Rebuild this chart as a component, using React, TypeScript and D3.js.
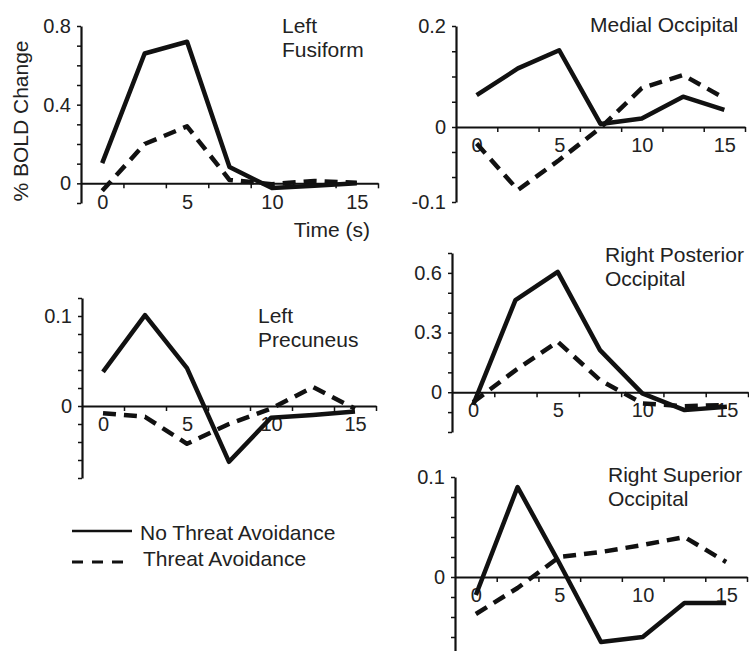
import { useEffect, useRef } from "react";
import * as d3 from "d3";

const WIDTH = 749;
const HEIGHT = 651;
const FONT = '"Liberation Sans", Arial, Helvetica, sans-serif';
const INK = "#111";
const TEXT = "#222";

// time points (s), one per TR
const times = [0, 2.5, 5, 7.5, 10, 12.5, 15];
const xTickLabels = [0, 5, 10, 15];
// excel style category axis: the tick marks sit between the time points
const xCategoryEdges = [1.25, 3.75, 6.25, 8.75, 11.25, 13.75, 16.25];
const xDomain = [-1.25, 16.25];

// % BOLD change
const fusiformNoThreat = [0.103, 0.66, 0.72, 0.083, -0.024, -0.012, 0.0];
const fusiformThreat = [-0.038, 0.2, 0.29, 0.017, -0.004, 0.012, 0.003];
const medialNoThreat = [0.063, 0.116, 0.152, 0.006, 0.017, 0.06, 0.034];
const medialThreat = [-0.022, -0.084, -0.044, -0.001, 0.077, 0.103, 0.057];
const precuneusNoThreat = [0.038, 0.101, 0.042, -0.062, -0.013, -0.01, -0.006];
const precuneusThreat = [-0.008, -0.012, -0.042, -0.02, -0.003, 0.021, -0.003];
const posteriorNoThreat = [-0.064, 0.463, 0.605, 0.212, -0.006, -0.09, -0.073];
const posteriorThreat = [-0.05, 0.11, 0.254, 0.061, -0.056, -0.07, -0.064];
const superiorNoThreat = [-0.018, 0.09, 0.014, -0.065, -0.06, -0.026, -0.026];
const superiorThreat = [-0.037, -0.011, 0.02, 0.025, 0.032, 0.04, 0.015];

// y axes: domain, minor tick values, labelled values
const fusiformDomain = [-0.1, 0.8];
const fusiformTicks = [-0.1, 0, 0.1, 0.2, 0.3, 0.4, 0.5, 0.6, 0.7, 0.8];
const fusiformLabels = [0, 0.4, 0.8];
// the original axis is not evenly spaced above / below zero
const medialDomain = [-0.1, 0, 0.2];
const medialTicks = [-0.1, -0.0667, -0.0333, 0, 0.05, 0.1, 0.15, 0.2];
const medialLabels = [-0.1, 0, 0.2];
const precuneusDomain = [-0.08, 0.12];
const precuneusTicks = [-0.08, -0.06, -0.04, -0.02, 0, 0.02, 0.04, 0.06, 0.08, 0.1, 0.12];
const precuneusLabels = [0, 0.1];
const posteriorDomain = [-0.2, 0.7];
const posteriorTicks = [-0.2, -0.1, 0, 0.1, 0.2, 0.3, 0.4, 0.5, 0.6, 0.7];
const posteriorLabels = [0, 0.3, 0.6];
const superiorDomain = [-0.08, 0.1];
const superiorTicks = [-0.08, -0.06, -0.04, -0.02, 0, 0.02, 0.04, 0.06, 0.08, 0.1];
const superiorLabels = [0, 0.1];

const fusiformTitle = ["Left", "Fusiform"];
const medialTitle = ["Medial Occipital"];
const precuneusTitle = ["Left", "Precuneus"];
const posteriorTitle = ["Right Posterior", "Occipital"];
const superiorTitle = ["Right Superior", "Occipital"];

const seriesNames = ["No Threat Avoidance", "Threat Avoidance"];

type Panel = {
    title: string[];
    solid: number[];
    dashed: number[];
    domain: number[];
    ticks: number[];
    labels: number[];
    xRange: [number, number];
    yRange: number[];
    titleX: number;
    titleY: number;
};

const PANELS: Panel[] = [
    {
        title: fusiformTitle, solid: fusiformNoThreat, dashed: fusiformThreat,
        domain: fusiformDomain, ticks: fusiformTicks, labels: fusiformLabels,
        xRange: [81, 378], yRange: [203, 26], titleX: 282, titleY: 33,
    },
    {
        title: medialTitle, solid: medialNoThreat, dashed: medialThreat,
        domain: medialDomain, ticks: medialTicks, labels: medialLabels,
        xRange: [456, 745], yRange: [202, 127, 26], titleX: 590, titleY: 32,
    },
    {
        title: precuneusTitle, solid: precuneusNoThreat, dashed: precuneusThreat,
        domain: precuneusDomain, ticks: precuneusTicks, labels: precuneusLabels,
        xRange: [82, 376], yRange: [478, 298], titleX: 258, titleY: 323,
    },
    {
        title: posteriorTitle, solid: posteriorNoThreat, dashed: posteriorThreat,
        domain: posteriorDomain, ticks: posteriorTicks, labels: posteriorLabels,
        xRange: [452, 748], yRange: [432, 253], titleX: 605, titleY: 262,
    },
    {
        title: superiorTitle, solid: superiorNoThreat, dashed: superiorThreat,
        domain: superiorDomain, ticks: superiorTicks, labels: superiorLabels,
        xRange: [455, 747], yRange: [657, 477], titleX: 608, titleY: 482,
    },
];

const TITLE_STEP = 24;

export default function App() {
    const svgRef = useRef<SVGSVGElement>(null);

    useEffect(() => {
        const svg = d3.select(svgRef.current);
        svg.selectAll("*").remove();

        PANELS.forEach((p) => {
            const xScale = d3.scaleLinear().domain(xDomain).range(p.xRange);
            const yScale = d3.scaleLinear().domain(p.domain).range(p.yRange);
            const g = svg.append("g");

            // y axis with minor ticks, only some of them labelled
            const yAxis = d3
                .axisLeft(yScale)
                .tickValues(p.ticks)
                .tickSize(4)
                .tickSizeOuter(0)
                .tickPadding(6)
                .tickFormat((v) =>
                    p.labels.some((l) => Math.abs(l - +v) < 1e-6) ? String(v) : ""
                );
            const ya = g
                .append("g")
                .attr("transform", `translate(${p.xRange[0]},0)`)
                .call(yAxis)
                .attr("font-size", 20)
                .attr("font-family", FONT)
                .style("color", INK);
            ya.select(".domain").attr("stroke-width", 2.2);
            ya.selectAll(".tick line").attr("stroke-width", 1.5);
            ya.selectAll("text").attr("fill", TEXT);

            // x axis along zero
            const zeroY = yScale(0);
            const xa = g
                .append("g")
                .attr("transform", `translate(0,${zeroY})`)
                .call(
                    d3
                        .axisBottom(xScale)
                        .tickValues(xCategoryEdges)
                        .tickSize(5)
                        .tickSizeOuter(0)
                        .tickFormat(() => "")
                )
                .style("color", INK);
            xa.select(".domain").attr("stroke-width", 2);
            xa.selectAll(".tick line").attr("stroke-width", 1.5);

            const xl = g
                .append("g")
                .attr("transform", `translate(0,${zeroY})`)
                .call(
                    d3
                        .axisBottom(xScale)
                        .tickValues(xTickLabels)
                        .tickSize(0)
                        .tickPadding(11)
                        .tickFormat((d) => String(d))
                )
                .attr("font-size", 20)
                .attr("font-family", FONT);
            xl.select(".domain").remove();
            xl.selectAll("text").attr("fill", TEXT);

            // the two time courses
            const lineBuilder = d3
                .line<number>()
                .x((_, i) => xScale(times[i]))
                .y((d) => yScale(d));

            g.append("path")
                .attr("d", lineBuilder(p.dashed))
                .attr("fill", "none")
                .attr("stroke", INK)
                .attr("stroke-width", 4.5)
                .attr("stroke-dasharray", "13,8")
                .attr("stroke-linejoin", "round");
            g.append("path")
                .attr("d", lineBuilder(p.solid))
                .attr("fill", "none")
                .attr("stroke", INK)
                .attr("stroke-width", 4.5)
                .attr("stroke-linejoin", "round");

            // region name
            g.append("text")
                .attr("font-family", FONT)
                .attr("font-size", 21)
                .attr("fill", TEXT)
                .selectAll("tspan")
                .data(p.title)
                .join("tspan")
                .attr("x", p.titleX)
                .attr("y", (_, i) => p.titleY + i * TITLE_STEP)
                .text((d) => d);
        });

        // axis titles on the first panel
        svg.append("text")
            .attr("transform", "translate(20,121) rotate(-90)")
            .attr("text-anchor", "middle")
            .attr("dominant-baseline", "central")
            .attr("font-family", FONT)
            .attr("font-size", 21)
            .attr("fill", TEXT)
            .text("% BOLD Change");
        svg.append("text")
            .attr("x", 370)
            .attr("y", 237)
            .attr("text-anchor", "end")
            .attr("font-family", FONT)
            .attr("font-size", 21)
            .attr("fill", TEXT)
            .text("Time (s)");

        // legend
        const legend = svg.append("g");
        legend.append("line")
            .attr("x1", 72).attr("x2", 132)
            .attr("y1", 531).attr("y2", 531)
            .attr("stroke", INK).attr("stroke-width", 2.5);
        legend.append("line")
            .attr("x1", 72).attr("x2", 124)
            .attr("y1", 562).attr("y2", 562)
            .attr("stroke", INK).attr("stroke-width", 3)
            .attr("stroke-dasharray", "11,9");
        legend.selectAll("text.lbl")
            .data(seriesNames)
            .join("text")
            .attr("class", "lbl")
            .attr("x", (_, i) => (i === 0 ? 140 : 143))
            .attr("y", (_, i) => (i === 0 ? 540 : 566))
            .attr("font-family", FONT)
            .attr("font-size", 21)
            .attr("fill", TEXT)
            .text((d) => d);
    }, []);

    return (
        <svg
            ref={svgRef}
            width={WIDTH}
            height={HEIGHT}
            style={{ position: "absolute", left: 0, top: 0, background: "#fff" }}
        />
    );
}
